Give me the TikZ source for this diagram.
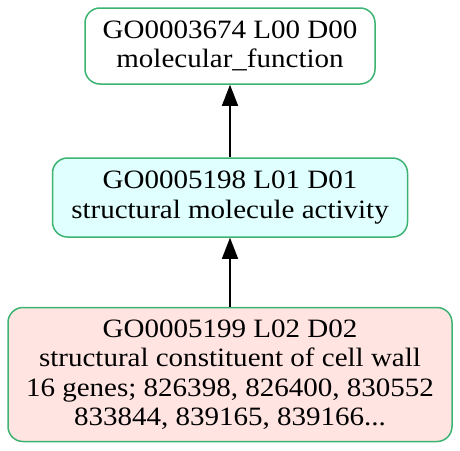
\documentclass[tikz,border=0pt]{standalone}
\usepackage{fontspec}
\setmainfont{Liberation Serif}[FakeStretch=1.095]
\usetikzlibrary{arrows.meta}
\definecolor{gvgreen}{HTML}{3CB371}
\definecolor{gvcyan}{HTML}{E0FFFF}
\definecolor{gvrose}{HTML}{FFE4E1}
\begin{document}
\begin{tikzpicture}[x=1pt,y=-1pt,
  goterm/.style={draw=gvgreen, line width=1.5pt, rounded corners=15pt, align=center,
    font=\fontsize{26.5}{29.5}\selectfont, inner sep=0pt},
  edge/.style={line width=1.3pt, -{Triangle[length=21pt,width=16pt]}}]
\useasboundingbox (0,0) rectangle (460,450);
\node[goterm, fill=white, minimum width=290pt, minimum height=76pt] (top) at (230,46)
  {GO0003674 L00 D00\\molecular\_function};
\node[goterm, fill=gvcyan, minimum width=355pt, minimum height=79pt] (mid) at (230,197.5)
  {GO0005198 L01 D01\\structural molecule activity};
\node[goterm, fill=gvrose, minimum width=444pt, minimum height=134pt] (bot) at (230,374.5)
  {GO0005199 L02 D02\\structural constituent of cell wall\\16 genes; 826398, 826400, 830552\\833844, 839165, 839166...};
\draw[edge] (bot) -- (mid);
\draw[edge] (mid) -- (top);
\end{tikzpicture}
\end{document}
